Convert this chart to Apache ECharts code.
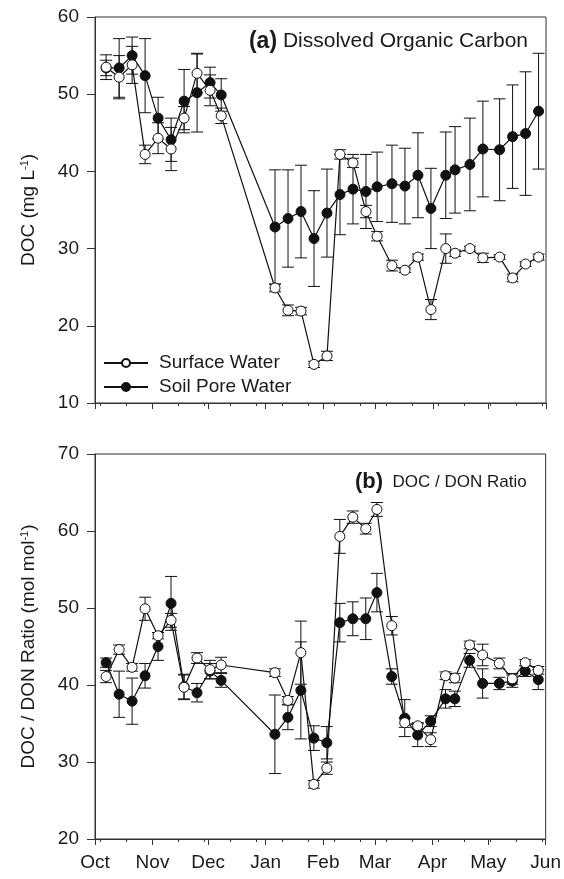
<!DOCTYPE html>
<html>
<head>
<meta charset="utf-8">
<script src="https://cdn.jsdelivr.net/npm/echarts@6/dist/echarts.min.js"></script>
<style>html,body{margin:0;padding:0;background:#fff}#c{width:564px;height:879px}</style>
</head>
<body>
<div id="c"></div>
<script>
// ---- data ----
const sampleDates = ['2006-10-07','2006-10-14','2006-10-21','2006-10-28','2006-11-04','2006-11-11','2006-11-18','2006-11-25','2006-12-02','2006-12-08',
  '2007-01-06','2007-01-13','2007-01-20','2007-01-27','2007-02-03','2007-02-10','2007-02-17','2007-02-24','2007-03-02','2007-03-10',
  '2007-03-17','2007-03-24','2007-03-31','2007-04-08','2007-04-13','2007-04-21','2007-04-28','2007-05-07','2007-05-14','2007-05-21','2007-05-28'];
const surfaceDOC = [53.5,52.2,53.8,42.2,44.3,42.9,46.9,52.7,50.5,47.2,24.9,22.0,21.9,15.0,16.1,42.2,41.1,34.8,31.6,27.8,27.2,28.9,22.1,30.0,29.4,30.0,28.8,28.9,26.2,28.0,28.9];
const surfaceDOCerr = [1.6,2.8,2.4,1.2,2.0,2.8,1.5,2.5,2.0,1.0,0.5,0.7,0.5,0.4,0.6,0.6,0.6,0.8,0.6,0.7,0.3,0.4,1.3,1.9,0.4,0.3,0.6,0.3,0.5,0.3,0.4];
const soilDOC = [53.4,53.4,55.0,52.4,46.9,44.1,49.1,50.2,51.5,49.9,32.8,33.9,34.8,31.3,34.6,37.0,37.7,37.4,38.0,38.4,38.1,39.5,35.2,39.5,40.2,40.9,42.9,42.8,44.5,44.9,47.8];
const soilDOCerr = [1.0,3.8,2.4,4.8,2.7,2.8,4.1,5.1,2.0,2.1,7.4,6.3,6.0,6.2,5.7,5.2,4.5,4.8,4.5,5.0,4.9,5.5,5.2,5.6,5.6,6.0,6.2,6.6,6.7,8.0,7.5];
const surfaceRatio = [41.1,44.6,42.3,49.9,46.4,48.4,39.7,43.5,42.0,42.6,41.6,38.0,44.2,27.1,29.2,59.3,61.8,60.3,62.8,47.7,35.1,34.7,32.9,41.2,40.9,45.2,43.9,42.8,40.8,42.9,41.9];
const surfaceRatioErr = [0.8,0.6,0.5,1.5,0.4,0.9,1.6,0.7,1.2,1.0,0.5,0.5,4.1,0.5,0.8,2.2,0.8,0.7,0.9,1.2,0.6,0.4,0.9,0.5,0.6,0.5,1.4,0.7,0.7,0.4,0.5];
const soilRatio = [42.9,38.8,37.9,41.2,45.0,50.6,39.8,39.0,41.8,40.6,33.6,35.8,39.3,33.1,32.5,48.1,48.6,48.6,52.0,41.1,35.7,33.5,35.3,38.2,38.2,43.2,40.2,40.2,40.5,41.8,40.7];
const soilRatioErr = [0.6,3.0,3.0,1.6,1.8,3.5,1.6,1.2,1.0,0.9,5.1,1.6,6.3,1.6,2.1,2.5,2.2,2.7,2.5,1.0,2.4,1.5,0.7,1.2,1.0,0.9,1.9,0.8,0.8,0.7,1.3];
const monthLabels = ['Oct','Nov','Dec','Jan','Feb','Mar','Apr','May','Jun'];
const monthStarts = ['2006-10-01','2006-11-01','2006-12-01','2007-01-01','2007-02-01','2007-03-01','2007-04-01','2007-05-01','2007-06-01'];
const minorTickDates = ['2006-10-04','2006-10-18','2006-11-15','2006-11-29','2006-12-13','2006-12-27','2007-01-10','2007-01-24','2007-02-07','2007-02-21',
  '2007-03-07','2007-03-21','2007-04-04','2007-04-18','2007-05-02','2007-05-16','2007-05-30'];
const docTicks = [10,20,30,40,50,60];
const ratioTicks = [20,30,40,50,60,70];

// ---- helpers ----
function ts(s){const p=s.split('-').map(Number);return Date.UTC(p[0],p[1]-1,p[2]);}
const FONT = '"Liberation Sans", Arial, Helvetica, sans-serif';
const TXT = '#1a1a1a';
const AX = '#333';
const monthTs = monthStarts.map(ts);
const xMin = monthTs[0], xMax = monthTs[monthTs.length-1];
const minorTs = minorTickDates.map(ts);

function pairs(vals){return sampleDates.map((d,i)=>[ts(d),vals[i]]);}
function errs(vals,e){return sampleDates.map((d,i)=>[ts(d),vals[i]-e[i],vals[i]+e[i]]);}

const grids = [
  {left:95, top:17, right:18, height:386, show:true, borderColor:AX, borderWidth:1},
  {left:95, top:454, right:18, height:385, show:true, borderColor:AX, borderWidth:1}
];
function mainX(gi, labels){
  return {type:'value', gridIndex:gi, min:xMin, max:xMax, position:'bottom',
    axisLine:{show:true, onZero:false, lineStyle:{color:AX, width:1}},
    axisTick:{show:true, customValues:monthTs, length:6, inside:false, lineStyle:{color:AX}},
    axisLabel:{show:labels, customValues:monthTs, margin:14, fontSize:19, fontFamily:FONT, color:TXT,
      formatter:(v)=>{const i=monthTs.indexOf(v); return i>=0?monthLabels[i]:'';},
      showMinLabel:true, showMaxLabel:true},
    splitLine:{show:false}};
}
function minorX(gi){
  return {type:'value', gridIndex:gi, min:xMin, max:xMax, position:'bottom',
    axisLine:{show:false, onZero:false}, axisTick:{show:true, customValues:minorTs, length:3, lineStyle:{color:AX}},
    axisLabel:{show:false}, splitLine:{show:false}};
}
function yAx(gi, ticks, nameRich){
  return {type:'value', gridIndex:gi, min:ticks[0], max:ticks[ticks.length-1], interval:10,
    axisLine:{show:true, onZero:false, lineStyle:{color:AX}}, axisTick:{show:true, length:8, lineStyle:{color:AX}},
    axisLabel:{margin:16, fontSize:19, fontFamily:FONT, color:TXT}, splitLine:{show:false},
    name:nameRich, nameLocation:'middle', nameRotate:90, nameGap:56,
    nameTextStyle:{fontSize:19, fontFamily:FONT, color:TXT, rich:{
      t:{fontSize:19, fontFamily:FONT, color:TXT},
      sup:{fontSize:11, fontFamily:FONT, color:TXT, verticalAlign:'top', padding:[0,0,9,0]}
    }}};
}
function errSeries(name, xi, yi, data){
  return {type:'custom', name:name, xAxisIndex:xi, yAxisIndex:yi, z:2, silent:true,
    renderItem:function(params, api){
      const x=api.value(0), lo=api.value(1), hi=api.value(2);
      const pl=api.coord([x,lo]), ph=api.coord([x,hi]);
      const w=6; const st={stroke:'#111', lineWidth:1};
      return {type:'group', children:[
        {type:'line', shape:{x1:ph[0],y1:ph[1],x2:pl[0],y2:pl[1]}, style:st},
        {type:'line', shape:{x1:ph[0]-w,y1:ph[1],x2:ph[0]+w,y2:ph[1]}, style:st},
        {type:'line', shape:{x1:pl[0]-w,y1:pl[1],x2:pl[0]+w,y2:pl[1]}, style:st}
      ]};
    },
    encode:{x:0, y:[1,2]}, data:data};
}
function lineSeries(name, xi, yi, data, filled, z){
  return {type:'line', name:name, xAxisIndex:xi, yAxisIndex:yi, data:data, z:z,
    symbol:'circle', symbolSize:10, showAllSymbol:true,
    lineStyle:{color:'#111', width:1.2},
    itemStyle:{color: filled ? '#111' : '#fff', borderColor:'#111', borderWidth:1},
    emphasis:{disabled:true}};
}

const chart = echarts.init(document.getElementById('c'), null, {renderer:'canvas'});
chart.setOption({
  animation:false,
  backgroundColor:'#fff',
  grid:grids,
  title:[
    {text:'{b|(a)} Dissolved Organic Carbon', right:31, top:25,
      textStyle:{fontSize:21, fontWeight:'normal', fontFamily:FONT, color:TXT,
        rich:{b:{fontSize:23, fontWeight:'bold', fontFamily:FONT, color:TXT}}}},
    {text:'{b|(b)}  DOC / DON Ratio', left:350, top:466,
      textStyle:{fontSize:17, fontWeight:'normal', fontFamily:FONT, color:TXT,
        rich:{b:{fontSize:22, fontWeight:'bold', fontFamily:FONT, color:TXT}}}}
  ],
  legend:{data:['Surface Water','Soil Pore Water'], orient:'vertical', left:98, top:348,
    itemWidth:44, itemHeight:10, itemGap:4,
    textStyle:{fontSize:19, fontFamily:FONT, color:TXT, lineHeight:20, padding:[0,0,0,6]}},
  xAxis:[mainX(0,false), mainX(1,true), minorX(0), minorX(1)],
  yAxis:[yAx(0, docTicks, '{t|DOC (mg L}{sup|-1}{t|)}'), yAx(1, ratioTicks, '{t|DOC / DON Ratio (mol mol}{sup|-1}{t|)}')],
  series:[
    errSeries('errSoilDOC',0,0,errs(soilDOC,soilDOCerr)),
    errSeries('errSurfDOC',0,0,errs(surfaceDOC,surfaceDOCerr)),
    lineSeries('Soil Pore Water',0,0,pairs(soilDOC),true,3),
    lineSeries('Surface Water',0,0,pairs(surfaceDOC),false,4),
    errSeries('errSoilRatio',1,1,errs(soilRatio,soilRatioErr)),
    errSeries('errSurfRatio',1,1,errs(surfaceRatio,surfaceRatioErr)),
    lineSeries('Soil Pore Water',1,1,pairs(soilRatio),true,3),
    lineSeries('Surface Water',1,1,pairs(surfaceRatio),false,4)
  ]
});
</script>
</body>
</html>
